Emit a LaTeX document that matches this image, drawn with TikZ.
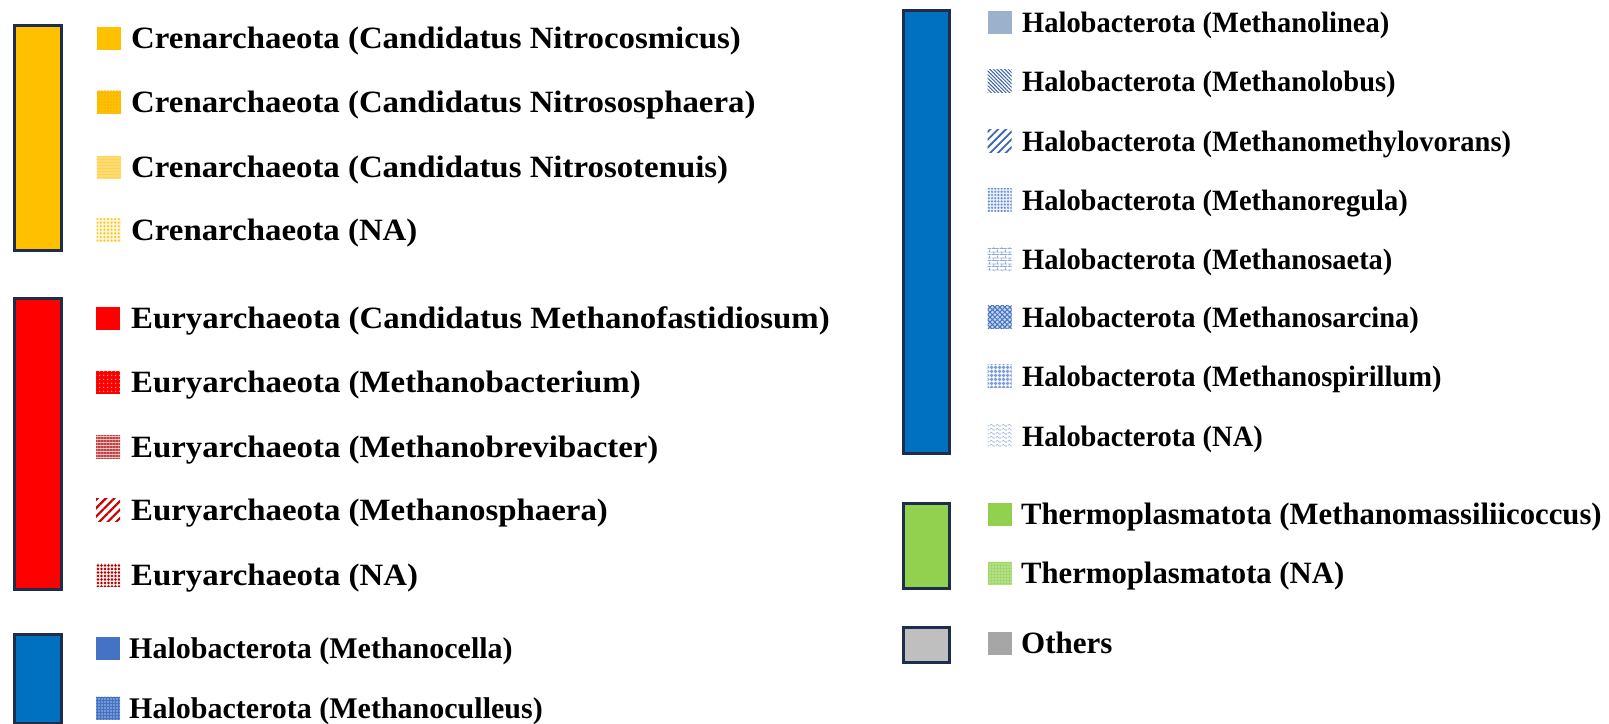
\documentclass[tikz,border=0pt]{standalone}
\usepackage{fontspec}
\setmainfont{Liberation Serif}
% stretched and condensed cuts of the label face
\newfontfamily\fWide[FakeStretch=1.06]{Liberation Serif}
\newfontfamily\fNarrow[FakeStretch=0.965]{Liberation Serif}
\newfontfamily\fTherm[FakeStretch=0.99]{Liberation Serif}
\usetikzlibrary{patterns.meta}

% legend colours
\definecolor{frameC}{HTML}{1F2D4D}
\definecolor{cGold}{HTML}{FFC000}
\definecolor{cRed}{HTML}{FF0000}
\definecolor{cBlue}{HTML}{0070C0}
\definecolor{cBlueS}{HTML}{4472C4}
\definecolor{cLinea}{HTML}{9BB1CC}
\definecolor{cGreen}{HTML}{92D050}
\definecolor{cGreyBar}{HTML}{BFBFBF}
\definecolor{cGrey}{HTML}{A6A6A6}

% small tiling patterns for the swatches
\tikzdeclarepattern{
  name=brickwall, type=uncolored,
  bounding box={(0pt,0pt) and (8pt,6pt)},
  tile size={(8pt,6pt)},
  code={
    \draw[line width=0.8pt] (0pt,0.5pt) -- (8pt,0.5pt) (0pt,3.5pt) -- (8pt,3.5pt)
      (2pt,0.5pt) -- (2pt,3.5pt) (6pt,3.5pt) -- (6pt,6pt);
  }
}
\tikzdeclarepattern{
  name=wavy, type=uncolored,
  bounding box={(0pt,0pt) and (6pt,4pt)},
  tile size={(6pt,4pt)},
  code={
    \draw[line width=0.7pt] (0pt,2pt) .. controls (1.5pt,3.8pt) and (1.5pt,3.8pt) .. (3pt,2pt)
      .. controls (4.5pt,0.2pt) and (4.5pt,0.2pt) .. (6pt,2pt);
  }
}

\tikzset{
  bar/.style={draw=frameC, line width=2.5pt, anchor=north west, inner sep=0pt},
  sw/.style={minimum width=24pt, minimum height=23pt, inner sep=0pt, draw=none},
  lab/.style={anchor=base west, inner sep=0pt, font=\fontsize{31}{31}\selectfont\bfseries},
  labW/.style={lab, font=\fWide\bfseries\fontsize{31}{31}\selectfont},
  labL/.style={lab, font=\bfseries\fontsize{30}{30}\selectfont},
  labR/.style={lab, font=\fNarrow\bfseries\fontsize{29.5}{29.5}\selectfont},
  labT/.style={lab, font=\fTherm\bfseries\fontsize{31}{31}\selectfont}
}

\begin{document}
\begin{tikzpicture}[x=1pt, y=-1pt]
\useasboundingbox (0,0) rectangle (1609,723);

% ---------- group bars ----------
\node[bar, fill=cGold,    minimum width=47pt, minimum height=225pt] (barCren) at (13,24) {};
\node[bar, fill=cRed,     minimum width=47pt, minimum height=291pt] (barEury) at (13,297) {};
\node[bar, fill=cBlue,    minimum width=47pt, minimum height=89pt]  (barHaloA) at (13,633) {};
\node[bar, fill=cBlue,    minimum width=46pt, minimum height=443pt] (barHaloB) at (902,9) {};
\node[bar, fill=cGreen,   minimum width=46pt, minimum height=85pt]  (barTherm) at (902,502) {};
\node[bar, fill=cGreyBar, minimum width=46pt, minimum height=35pt]  (barOther) at (902,626) {};

% ---------- Crenarchaeota ----------
\node[sw, fill=cGold] (sC1) at (108.5,38) {};
\node[sw, preaction={fill=cGold}, pattern={Dots[radius=0.8pt, distance=3pt]}, pattern color=cGold!75!brown] (sC2) at (108.5,102) {};
\node[sw, preaction={fill=cGold!55!white}, pattern={Lines[angle=0, distance=3pt, line width=0.8pt]}, pattern color=cGold!70!white] (sC3) at (108.5,167) {};
\node[sw, preaction={fill=cGold!12!white}, pattern={Dots[radius=1.3pt, distance=3.6pt]}, pattern color=cGold!85!white] (sC4) at (108.5,230) {};

\node[labW] (tC1) at (131,48)  {Crenarchaeota (Candidatus Nitrocosmicus)};
\node[labW] (tC2) at (131,112) {Crenarchaeota (Candidatus Nitrososphaera)};
\node[labW] (tC3) at (131,177) {Crenarchaeota (Candidatus Nitrosotenuis)};
\node[labW] (tC4) at (131,240) {Crenarchaeota (NA)};

% ---------- Euryarchaeota ----------
\node[sw, fill=cRed] (sE1) at (108,318) {};
\node[sw, preaction={fill=cRed}, pattern={Dots[radius=0.9pt, distance=4pt]}, pattern color=red!35!white] (sE2) at (108,382) {};
\node[sw, preaction={fill=red!25!white}, pattern={Lines[angle=0, distance=3pt, line width=1.4pt]}, pattern color=red!45!gray] (sE3) at (108,447) {};
\node[sw, preaction={fill=white}, pattern={Lines[angle=45, distance=6pt, line width=2.2pt]}, pattern color=red!80!black] (sE4) at (108,510) {};
\node[sw, preaction={fill=red!8!white}, pattern={Dots[radius=1.3pt, distance=3.5pt]}, pattern color=red!65!black] (sE5) at (108,575) {};

\node[labW] (tE1) at (131,328) {Euryarchaeota (Candidatus Methanofastidiosum)};
\node[labW] (tE2) at (131,392) {Euryarchaeota (Methanobacterium)};
\node[labW] (tE3) at (131,457) {Euryarchaeota (Methanobrevibacter)};
\node[labW] (tE4) at (131,520) {Euryarchaeota (Methanosphaera)};
\node[labW] (tE5) at (131,585) {Euryarchaeota (NA)};

% ---------- Halobacterota, first column ----------
\node[sw, fill=cBlueS] (sH1) at (108,648) {};
\node[sw, preaction={fill=cBlueS}, pattern={Dots[radius=0.8pt, distance=3pt]}, pattern color=cBlueS!45!white] (sH2) at (108,708) {};

\node[labL] (tH1) at (129,658) {Halobacterota (Methanocella)};
\node[labL] (tH2) at (129,718) {Halobacterota (Methanoculleus)};

% ---------- Halobacterota, second column ----------
\node[sw, fill=cLinea] (sR1) at (999.5,22) {};
\node[sw, preaction={fill=white}, pattern={Lines[angle=-45, distance=2.6pt, line width=1pt]}, pattern color=cBlueS!85!black] (sR2) at (999.5,81) {};
\node[sw, preaction={fill=white}, pattern={Lines[angle=45, distance=5.5pt, line width=1.8pt]}, pattern color=cBlueS!90!black] (sR3) at (999.5,141) {};
\node[sw, preaction={fill=cBlueS!10!white}, pattern={Dots[radius=1.2pt, distance=3.2pt]}, pattern color=cBlueS!80!white] (sR4) at (999.5,200) {};
\node[sw, preaction={fill=white}, pattern=brickwall, pattern color=cBlueS!60!white] (sR5) at (999.5,259) {};
\node[sw, preaction={fill=cBlueS!30!white}, pattern={Hatch[angle=45, distance=3.5pt, line width=1pt]}, pattern color=cBlueS] (sR6) at (999.5,317) {};
\node[sw, preaction={fill=white}, pattern={Hatch[angle=0, distance=4pt, line width=1.6pt]}, pattern color=cBlueS!70!white] (sR7) at (999.5,376) {};
\node[sw, preaction={fill=white}, pattern=wavy, pattern color=cBlueS!50!white] (sR8) at (999.5,436) {};

\node[labR] (tR1) at (1022,32)  {Halobacterota (Methanolinea)};
\node[labR] (tR2) at (1022,91)  {Halobacterota (Methanolobus)};
\node[labR] (tR3) at (1022,151) {Halobacterota (Methanomethylovorans)};
\node[labR] (tR4) at (1022,210) {Halobacterota (Methanoregula)};
\node[labR] (tR5) at (1022,269) {Halobacterota (Methanosaeta)};
\node[labR] (tR6) at (1022,327) {Halobacterota (Methanosarcina)};
\node[labR] (tR7) at (1022,386) {Halobacterota (Methanospirillum)};
\node[labR] (tR8) at (1022,446) {Halobacterota (NA)};

% ---------- Thermoplasmatota and others ----------
\node[sw, fill=cGreen] (sT1) at (999.5,514) {};
\node[sw, preaction={fill=cGreen!85!white}, pattern={Dots[radius=0.9pt, distance=3pt]}, pattern color=cGreen!45!white] (sT2) at (999.5,573) {};
\node[sw, fill=cGrey] (sO1) at (999.5,643) {};

\node[labT] (tT1) at (1021,524) {Thermoplasmatota (Methanomassiliicoccus)};
\node[labT] (tT2) at (1021,583) {Thermoplasmatota (NA)};
\node[lab]  (tO1) at (1021,653) {Others};
\end{tikzpicture}
\end{document}
